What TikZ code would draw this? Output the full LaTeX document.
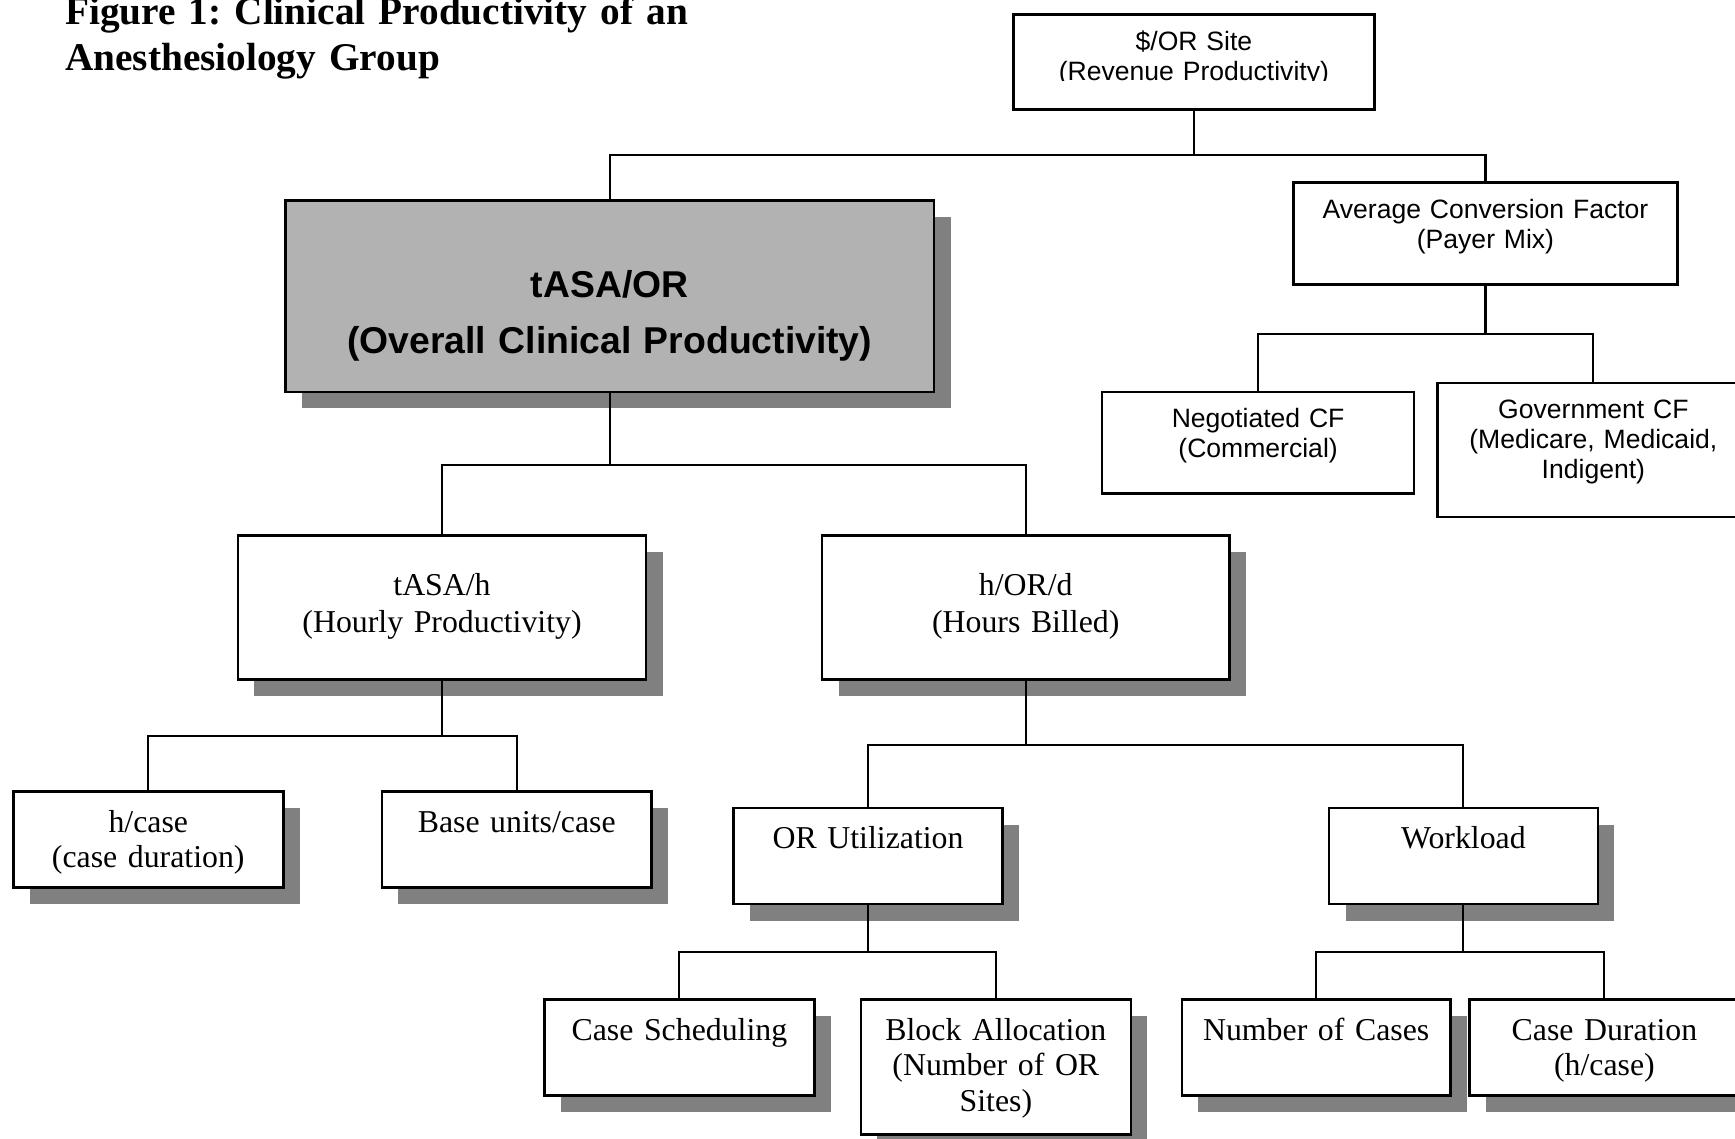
\documentclass[tikz,border=0pt]{standalone}
\usepackage{fontspec}
\setmainfont{Liberation Serif}
\newfontfamily\arialfont{Liberation Sans}
\usepackage{trimclip}
\usetikzlibrary{shadows}
\definecolor{shadowgray}{RGB}{128,128,128}
\definecolor{maingray}{RGB}{178,178,178}
\frenchspacing

\begin{document}
\begin{tikzpicture}[x=0.4pt, y=-0.4pt, line width=0.75pt,
    every node/.style={inner sep=0pt, align=center, anchor=north},
    abox/.style={draw, line width=0.9pt, fill=white, text height=13pt,
      font=\arialfont\fontsize{9.6}{10.7}\selectfont},
    tbox/.style={draw, line width=0.9pt, fill=white, text height=14.8pt,
      font=\fontsize{11.5}{12.8}\selectfont,
      drop shadow={shadow xshift=6pt, shadow yshift=-6pt, fill=shadowgray, opacity=1}}]

  \useasboundingbox (0,0) rectangle (1568,1029);

  % title
  \node[anchor=north west, text width=300pt, align=left, text height=8.4pt,
    font=\bfseries\fontsize{14.2}{16.8}\selectfont] (title) at (58,0)
    {Figure 1: Clinical Productivity of an\\Anesthesiology Group};

  % revenue side (no shadows)
  \node[abox, text width=130.4pt, text depth=21.4pt] (orsite) at (1079,12)
    {\$/OR Site\\\clipbox{0pt 0.9\depth{} 0pt 0pt}{(Revenue Productivity)}};
  \node[abox, text width=138.8pt, text depth=23.8pt] (acf) at (1342.5,164)
    {Average Conversion Factor\\(Payer Mix)};
  \node[abox, text width=112.8pt, text depth=23.8pt] (neg) at (1137,353)
    {Negotiated CF\\(Commercial)};
  \node[abox, text width=112.8pt, text depth=35.4pt] (gov) at (1440,345)
    {Government CF\\(Medicare, Medicaid,\\Indigent)};

  % main box
  \node[tbox, fill=maingray, text width=234.4pt, text height=35pt, text depth=34.2pt,
    font=\arialfont\bfseries\fontsize{13.5}{20.2}\selectfont] (tasaor) at (551,180)
    {tASA/OR\\(Overall Clinical Productivity)};

  % second level
  \node[tbox, text width=147.6pt, text height=21.6pt, text depth=30.4pt,
    font=\fontsize{11.5}{13.4}\selectfont] (tasah) at (399.5,483)
    {tASA/h\\(Hourly Productivity)};
  \node[tbox, text width=147.2pt, text height=21.6pt, text depth=30.4pt,
    font=\fontsize{11.5}{13.4}\selectfont] (hord) at (927,483)
    {h/OR/d\\(Hours Billed)};

  % third level
  \node[tbox, text width=97.6pt, text depth=20pt] (hcase) at (134,714) {h/case\\(case duration)};
  \node[tbox, text width=97.6pt, text depth=20pt] (base) at (467,714) {Base units/case};
  \node[tbox, text width=97.2pt, text depth=20pt] (orutil) at (784.5,729) {OR Utilization};
  \node[tbox, text width=97.2pt, text depth=20pt] (workload) at (1322.5,729) {Workload};

  % fourth level
  \node[tbox, text width=97.6pt, text depth=20pt] (casesched) at (614,902) {Case Scheduling};
  \node[tbox, text width=97.6pt, text depth=34pt] (block) at (900,902)
    {Block Allocation\\(Number of OR\\Sites)};
  \node[tbox, text width=97.2pt, text depth=20pt] (numcases) at (1189.5,902) {Number of Cases};
  \node[tbox, text width=97.6pt, text depth=20pt] (casedur) at (1450,902)
    {Case Duration\\(h/case)};

  % connectors
  \draw (orsite.south) -- ++(0,40) coordinate (j1) -| (tasaor.north);
  \draw (j1) -| (acf.north);
  \draw (acf.south) -- ++(0,44) coordinate (j2) -| (neg.north);
  \draw (j2) -| (gov.north);
  \draw (tasaor.south) -- ++(0,65) coordinate (j3) -| (tasah.north);
  \draw (j3) -| (hord.north);
  \draw (tasah.south) -- ++(0,50) coordinate (j4) -| (hcase.north);
  \draw (j4) -| (base.north);
  \draw (hord.south) -- ++(0,58) coordinate (j5) -| (orutil.north);
  \draw (j5) -| (workload.north);
  \draw (orutil.south) -- ++(0,42) coordinate (j6) -| (casesched.north);
  \draw (j6) -| (block.north);
  \draw (workload.south) -- ++(0,42) coordinate (j7) -| (numcases.north);
  \draw (j7) -| (casedur.north);

\end{tikzpicture}
\end{document}
